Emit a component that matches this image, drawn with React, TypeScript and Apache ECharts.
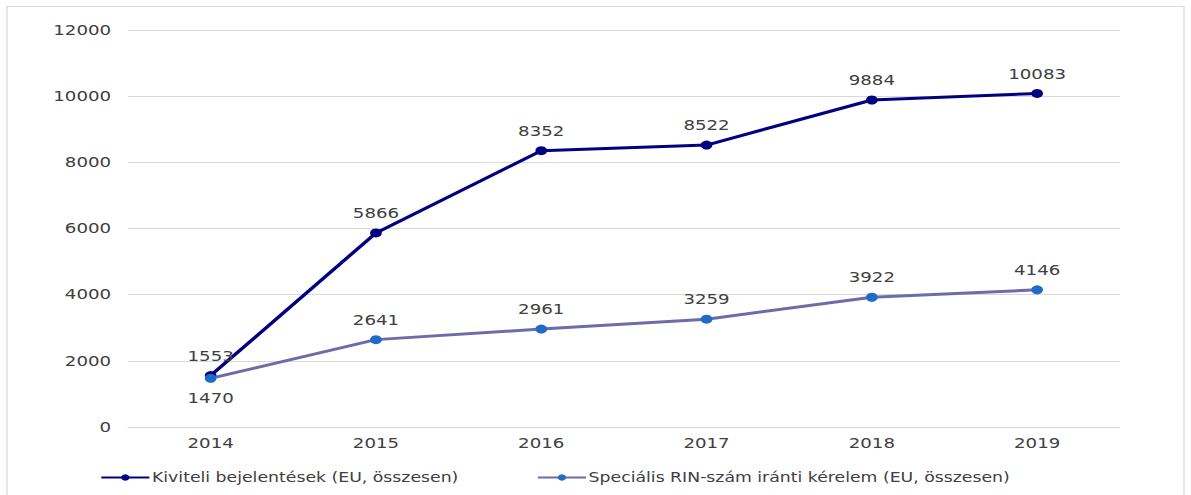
import React, { useEffect, useRef } from "react";
import * as echarts from "echarts";

const years = ["2014", "2015", "2016", "2017", "2018", "2019"];
const kiviteli = [1553, 5866, 8352, 8522, 9884, 10083];
const specialis = [1470, 2641, 2961, 3259, 3922, 4146];
const seriesNames = [
  "Kiviteli bejelentések (EU, összesen)",
  "Speciális RIN-szám iránti kérelem (EU, összesen)",
];

const SX = 1.3; // the reference is horizontally stretched
const W = 1191 / SX;
const H = 495;

export default function App() {
  const ref = useRef<HTMLDivElement>(null);
  useEffect(() => {
    const chart = echarts.init(ref.current!, null, { renderer: "svg" });
    const font = "DejaVu Sans, Verdana, sans-serif";
    chart.setOption({
      animation: false,
      backgroundColor: "#ffffff",
      graphic: [
        {
          type: "rect",
          shape: { x: 7 / SX, y: 6.5, width: 1177 / SX, height: 500 },
          style: { fill: "none", stroke: "#D9D9D9", lineWidth: 1 },
        },
      ],
      grid: { left: 128 / SX, right: 71 / SX, top: 30, bottom: 68, containLabel: false },
      legend: {
        top: 466,
        left: 100 / SX - 5,
        itemGap: 60,
        itemWidth: 37,
        itemHeight: 8,
        textStyle: { fontFamily: font, fontSize: 13.3, color: "#404040", padding: [0, 0, 0, -3] },
        data: seriesNames,
      },
      xAxis: {
        type: "category",
        data: years,
        boundaryGap: true,
        axisLine: { show: true, lineStyle: { color: "#D9D9D9" } },
        axisTick: { show: false },
        axisLabel: { fontFamily: font, fontSize: 14, color: "#404040", margin: 9 },
      },
      yAxis: {
        type: "value",
        min: 0,
        max: 12000,
        interval: 2000,
        axisLine: { show: false },
        axisTick: { show: false },
        splitLine: { lineStyle: { color: "#D9D9D9" } },
        axisLabel: {
          fontFamily: font,
          fontSize: 14,
          color: "#404040",
          margin: 13,
          formatter: (v: number) => String(v),
        },
      },
      series: [
        {
          name: seriesNames[0],
          type: "line",
          data: kiviteli,
          symbol: "circle",
          symbolSize: 9,
          z: 3,
          lineStyle: { color: "#000080", width: 3 },
          itemStyle: { color: "#000080" },
          label: {
            show: true,
            position: "top",
            distance: 8,
            fontFamily: font,
            fontSize: 14,
            color: "#404040",
          },
        },
        {
          name: seriesNames[1],
          type: "line",
          data: specialis.map((v, i) =>
            i === 0 ? { value: v, label: { position: "bottom" } } : v
          ),
          symbol: "circle",
          symbolSize: 9,
          z: 4,
          lineStyle: { color: "#6C6CA8", width: 3 },
          itemStyle: { color: "#1F6CC6" },
          label: {
            show: true,
            position: "top",
            distance: 8,
            fontFamily: font,
            fontSize: 14,
            color: "#404040",
          },
        },
      ],
    });
    return () => chart.dispose();
  }, []);
  return (
    <div
      style={{ position: "fixed", left: 0, top: 0, width: 1191, height: 495, overflow: "hidden", background: "#fff" }}
    >
      <div
        ref={ref}
        style={{
          width: W,
          height: H,
          transform: `scaleX(${SX})`,
          transformOrigin: "0 0",
        }}
      />
    </div>
  );
}
